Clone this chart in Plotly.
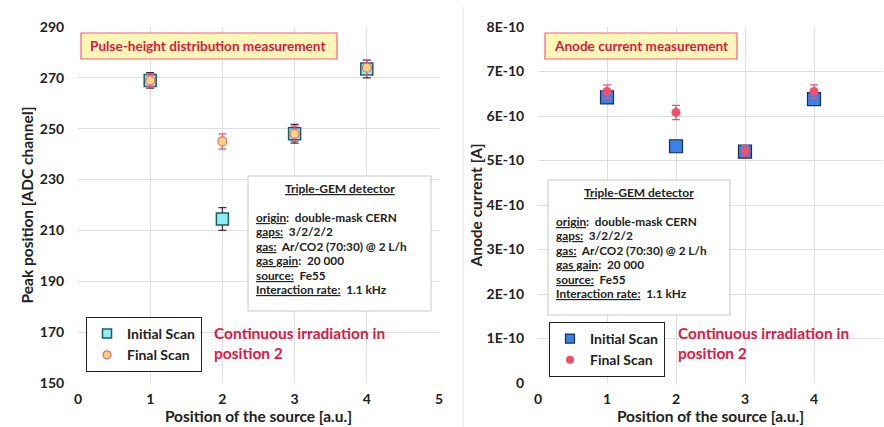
import plotly.graph_objects as go

# --- data ---
positions = [1, 2, 3, 4]

peak_initial = [269, 214.5, 248, 273.5]
peak_initial_err = [3, 4.5, 3.7, 3.5]
peak_final = [269, 245, 248, 274]
peak_final_err = [2.5, 3, 3, 3]

current_initial = [6.42e-10, 5.32e-10, 5.2e-10, 6.38e-10]
current_initial_err = [0.12e-10, 0.12e-10, 0.12e-10, 0.13e-10]
current_final = [6.55e-10, 6.08e-10, 5.22e-10, 6.55e-10]
current_final_err = [0.15e-10, 0.16e-10, 0.12e-10, 0.15e-10]

peak_ticks = [150, 170, 190, 210, 230, 250, 270, 290]
current_ticks = [0, 1e-10, 2e-10, 3e-10, 4e-10, 5e-10, 6e-10, 7e-10, 8e-10]
current_ticktext = ["0", "1E-10", "2E-10", "3E-10", "4E-10", "5E-10", "6E-10", "7E-10", "8E-10"]
x_ticks = [0, 1, 2, 3, 4, 5]

info_lines = [
    ("origin", ":  double-mask CERN"),
    ("gaps:", "  3/2/2/2"),
    ("gas:", "  Ar/CO2 (70:30) @ 2 L/h"),
    ("gas gain", ":  20 000"),
    ("source:", "  Fe55"),
    ("Interaction rate:", "  1.1 kHz"),
]

FONT = "Lato"
W, H = 884, 427
RED = "#e5163f"
INK = "#222"


def px(x):
    return x / W


def py(y):
    return 1 - y / H


fig = go.Figure()

styles = {
    "left_initial": dict(symbol="square", color="#8eeef6", line=dict(color="#1d5b66", width=1.5)),
    "left_final": dict(symbol="circle", color="#ffd27a", line=dict(color="#e8687a", width=1.2)),
    "right_initial": dict(symbol="square", color="#3b82e8", line=dict(color="#1a2d55", width=1.2)),
    "right_final": dict(symbol="circle", color="#f0506a", line=dict(width=0)),
}


def add_series(x, y, err, err_color, style, size, xa, ya):
    fig.add_trace(go.Scatter(
        x=x, y=y, mode="markers", showlegend=False,
        error_y=dict(type="data", array=err, color=err_color, thickness=1.3, width=4),
        marker=dict(size=size, **styles[style]), xaxis=xa, yaxis=ya,
    ))


def add_legend_entry(name, style, size, legend):
    # legend-only entry so the legend symbol stays small like the original
    fig.add_trace(go.Scatter(x=[None], y=[None], mode="markers", name=name,
                             marker=dict(size=size, **styles[style]), legend=legend))


add_series(positions, peak_initial, peak_initial_err, "#4a2a3a", "left_initial", 12, "x", "y")
add_series(positions, peak_final, peak_final_err, "#e0587e", "left_final", 9, "x", "y")
add_series(positions, current_initial, current_initial_err, INK, "right_initial", 13, "x2", "y2")
add_series(positions, current_final, current_final_err, "#e0587e", "right_final", 9, "x2", "y2")

add_legend_entry("Initial Scan", "left_initial", 9, "legend")
add_legend_entry("Final Scan", "left_final", 8, "legend")
add_legend_entry("Initial Scan", "right_initial", 9, "legend2")
add_legend_entry("Final Scan", "right_final", 8, "legend2")

axis_common = dict(
    showgrid=True, gridcolor="#dedede", gridwidth=1, zeroline=False, automargin=False,
    showline=False, ticks="outside", tickcolor="rgba(0,0,0,0)",
    tickfont=dict(family=FONT, size=14, color=INK, weight="bold"),
)
title_font = dict(family=FONT, size=15.5, color=INK, weight="bold")
legend_common = dict(
    xanchor="left", yanchor="top", bgcolor="white", bordercolor=INK, borderwidth=1,
    font=dict(family=FONT, size=14, color=INK, weight="bold"),
    tracegroupgap=2, itemwidth=30, itemsizing="trace",
)

fig.update_layout(
    width=W, height=H,
    margin=dict(l=0, r=0, t=0, b=0),
    paper_bgcolor="white", plot_bgcolor="white",
    font=dict(family=FONT),
    xaxis=dict(domain=[px(78), px(439)], range=[0, 5], tickvals=x_ticks, ticklen=3,
               title=dict(text="Position of the source [a.u.]", font=title_font, standoff=4),
               anchor="y", **axis_common),
    yaxis=dict(domain=[py(383), py(27)], range=[150, 290], tickvals=peak_ticks, ticklen=10,
               title=dict(text="Peak position [ADC channel]", font=title_font, standoff=2),
               anchor="x", **axis_common),
    xaxis2=dict(domain=[px(538), px(883)], range=[0, 5], tickvals=x_ticks, ticklen=3,
                title=dict(text="Position of the source [a.u.]", font=title_font, standoff=4),
                anchor="y2", **axis_common),
    yaxis2=dict(domain=[py(383), py(27)], range=[0, 8e-10], tickvals=current_ticks, ticklen=10,
                ticktext=current_ticktext,
                title=dict(text="Anode current [A]", font=title_font, standoff=0),
                anchor="x2", **axis_common),
    legend=dict(x=px(86), y=py(317), **legend_common),
    legend2=dict(x=px(549), y=py(322), **legend_common),
    showlegend=True,
)

# chart frame line of right panel
fig.add_shape(type="line", xref="paper", yref="paper", x0=px(463), x1=px(463), y0=0, y1=py(7),
              line=dict(color="#e2e2e2", width=1))


def add_title_box(x0, x1, text):
    fig.add_shape(type="rect", xref="paper", yref="paper",
                  x0=px(x0), x1=px(x1), y0=py(59), y1=py(33),
                  fillcolor="#fff7b8", line=dict(color="#f0607a", width=1.2), layer="above")
    fig.add_annotation(xref="paper", yref="paper", x=px(x0 + 7), y=py(46), xanchor="left", yanchor="middle",
                       text=text, showarrow=False,
                       font=dict(family=FONT, size=13.6, color=RED, weight="bold"))


def add_info_box(x0, x1, y0, y1):
    fig.add_shape(type="rect", xref="paper", yref="paper",
                  x0=px(x0), x1=px(x1), y0=py(y1), y1=py(y0),
                  fillcolor="white", line=dict(color="#c8c8c8", width=1), layer="above")
    fig.add_annotation(xref="paper", yref="paper", x=px((x0 + x1) / 2), y=py(y0 + 12),
                       xanchor="center", yanchor="middle",
                       text="<u>Triple-GEM detector</u>", showarrow=False,
                       font=dict(family=FONT, size=12, color=INK, weight="bold"))
    for i, (a, b) in enumerate(info_lines):
        fig.add_annotation(xref="paper", yref="paper", x=px(x0 + 6), y=py(y0 + 41 + i * 14.5),
                           xanchor="left", yanchor="middle", align="left",
                           text="<u>%s</u>%s" % (a, b), showarrow=False,
                           font=dict(family=FONT, size=11.8, color=INK, weight="bold"))


def add_note(x, y):
    fig.add_annotation(xref="paper", yref="paper", x=px(x), y=py(y), xanchor="left", yanchor="top",
                       align="left", text="Continuous irradiation in<br>position 2",
                       showarrow=False, font=dict(family=FONT, size=15.5, color=RED, weight="bold"))


add_title_box(81, 337, "Pulse-height distribution measurement")
add_title_box(545, 737, "Anode current measurement")
add_info_box(248, 431, 176, 311)
add_info_box(548, 730, 180, 315)
add_note(212, 322)
add_note(676, 322)

# drop the browser's default page margin so the figure sits at the window's corner
fig.write_html("out.html", config={"displayModeBar": False},
               post_script="document.body.style.margin='0';")
